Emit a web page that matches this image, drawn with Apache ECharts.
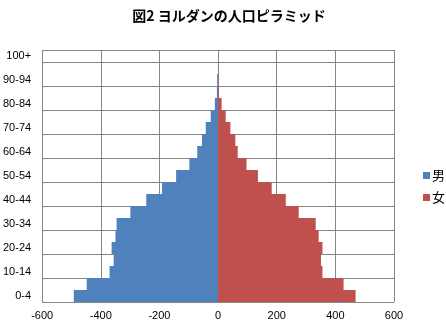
<!DOCTYPE html>
<html>
<head>
<meta charset="utf-8">
<script src="https://cdn.jsdelivr.net/npm/echarts@6/dist/echarts.min.js"></script>
<style>html,body{margin:0;padding:0;background:#fff}#c{width:446px;height:325px}</style>
</head>
<body>
<div id="c"></div>
<script>
var categories = ['0-4','5-9','10-14','15-19','20-24','25-29','30-34','35-39','40-44','45-49','50-54','55-59','60-64','65-69','70-74','75-79','80-84','85-89','90-94','95-99','100+'];
var male = [-492,-448,-370,-356,-363,-350,-346,-299,-245,-191,-143,-98,-71,-55,-42,-25,-11,-4,-3,-0.5,0];
var female = [469,428,356,351,356,343,333,275,231,183,136,97,67,59,42,26,12,3,2,0.5,0];
var xTicks = [-600,-400,-200,0,200,400,600];

var chart = echarts.init(document.getElementById('c'), null, {renderer:'canvas'});
var gridColor = '#868686';
chart.setOption({
  animation:false,
  backgroundColor:'#fff',
  title:{text:'図2 ヨルダンの人口ピラミッド', left:'center', left:224, top:4,
    textAlign:'center',
    textStyle:{fontFamily:'Noto Sans CJK JP', fontSize:14, fontWeight:'bold', color:'#000'}},
  legend:{orient:'vertical', left:418, top:164, itemWidth:7, itemHeight:7, itemGap:9,
    icon:'rect', data:['男','女'],
    textStyle:{fontFamily:'Noto Sans CJK JP', fontSize:13, color:'#000', padding:[0,0,0,-3]}},
  grid:{left:41, right:52, top:50, bottom:23, containLabel:false},
  xAxis:{type:'value', min:xTicks[0], max:xTicks[xTicks.length-1], interval:200,
    axisLine:{show:false}, axisTick:{show:false},
    splitLine:{show:true, lineStyle:{color:gridColor, width:1}},
    axisLabel:{fontFamily:'Liberation Sans', fontSize:11, color:'#000', margin:8}},
  yAxis:{type:'category', data:categories, boundaryGap:true,
    axisLine:{show:true, onZero:true, lineStyle:{color:gridColor}},
    axisTick:{show:false},
    splitLine:{show:true, interval:1, lineStyle:{color:gridColor, width:1}},
    axisLabel:{interval:1, fontFamily:'Liberation Sans', fontSize:11, color:'#000', margin:11}},
  series:[
    {name:'男', type:'bar', stack:'p', data:male, barCategoryGap:'0%', itemStyle:{color:'#4F81BD'}},
    {name:'女', type:'bar', stack:'p', data:female, barCategoryGap:'0%', itemStyle:{color:'#C0504D'}}
  ]
});
</script>
</body>
</html>
